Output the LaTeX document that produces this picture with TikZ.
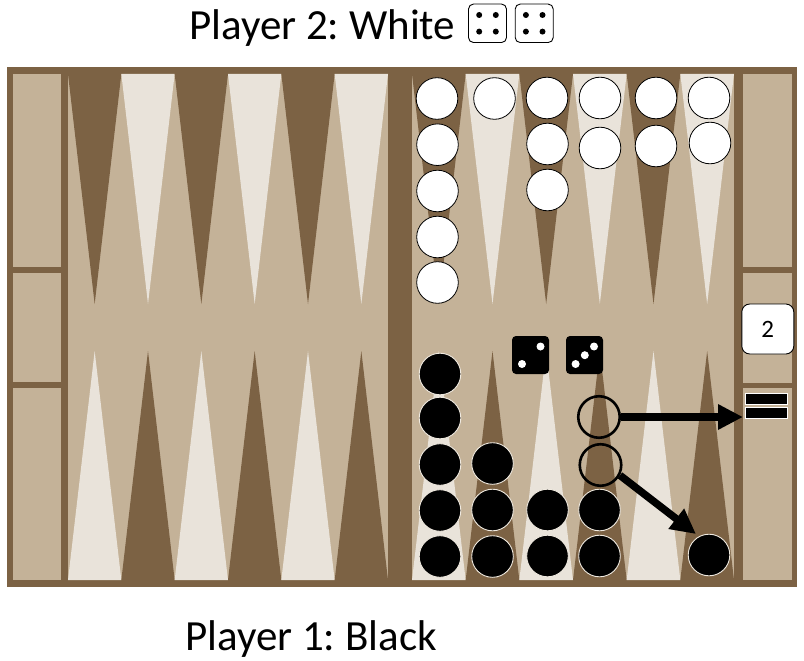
\documentclass[tikz,border=0pt]{standalone}
\usepackage{fontspec}
\setmainfont{Carlito}
\usetikzlibrary{arrows.meta}
\definecolor{frameB}{RGB}{124,98,68}
\definecolor{fieldB}{RGB}{196,178,152}
\definecolor{lightP}{RGB}{233,227,218}
\definecolor{rimC}{RGB}{240,234,224}
\frenchspacing
\begin{document}
\begin{tikzpicture}[x=1pt,y=-1pt,
  wchk/.style={circle,draw=black,line width=0.8pt,fill=white,minimum size=41.6pt,inner sep=0pt},
  bchk/.style={circle,draw=rimC,line width=0.9pt,fill=black,minimum size=41.6pt,inner sep=0pt},
  ghost/.style={circle,draw=black,line width=2.6pt,minimum size=41.5pt,inner sep=0pt},
  bdie/.style={fill=black,rounded corners=4pt,minimum width=37pt,minimum height=38pt,inner sep=0pt},
  wdie/.style={draw=black,fill=white,line width=0.9pt,rounded corners=5pt,minimum width=38pt,minimum height=38.5pt,inner sep=0pt},
  offbar/.style={fill=black,draw=white,line width=0.8pt,minimum width=42pt,minimum height=10.5pt,inner sep=0pt},
  mv/.style={line width=7.5pt,-{Triangle[length=25pt,width=24pt]}},
  title/.style={anchor=base west,inner sep=0pt,font=\fontsize{43}{50}\selectfont}
]
\useasboundingbox (0,0) rectangle (804,661);
% frame
\fill[frameB] (7,67) rectangle (797,587);
% left column
\fill[fieldB] (13,74) rectangle (61,267);
\fill[fieldB] (13,273) rectangle (61,382);
\fill[fieldB] (13,388) rectangle (61,580);
% right column
\fill[fieldB] (743,74) rectangle (792,267);
\fill[fieldB] (743,273) rectangle (792,383);
\fill[fieldB] (743,388) rectangle (792,580);
% fields
\fill[fieldB] (68,74) rectangle (388,580);
\fill[fieldB] (412,74) rectangle (734,580);
% points
\foreach \i in {0,...,5}{
  \pgfmathsetmacro{\xa}{68+\i*53.333}
  \pgfmathsetmacro{\xb}{412+\i*53.667}
  \ifodd\i
    \def\ctop{lightP}\def\cbot{frameB}
  \else
    \def\ctop{frameB}\def\cbot{lightP}
  \fi
  \fill[\ctop] (\xa,74) -- (\xa+53.333,74) -- (\xa+26.667,304) -- cycle;
  \fill[\cbot] (\xa,580) -- (\xa+53.333,580) -- (\xa+26.667,351) -- cycle;
  \fill[\ctop] (\xb,74) -- (\xb+53.667,74) -- (\xb+26.833,304) -- cycle;
  \fill[\cbot] (\xb,580) -- (\xb+53.667,580) -- (\xb+26.833,351) -- cycle;
}
% white checkers
\node[wchk] (w1a) at (437,98.5) {};
\node[wchk] (w1b) at (437.5,144.7) {};
\node[wchk] (w1c) at (437.5,191) {};
\node[wchk] (w1d) at (437.5,237) {};
\node[wchk] (w1e) at (437.5,282.5) {};
\node[wchk] (w2a) at (494.5,98.5) {};
\node[wchk] (w3a) at (547,98) {};
\node[wchk] (w3b) at (547.5,144) {};
\node[wchk] (w3c) at (547.5,190) {};
\node[wchk] (w4a) at (600,98) {};
\node[wchk] (w4b) at (600,148) {};
\node[wchk] (w5a) at (656,98) {};
\node[wchk] (w5b) at (656,146) {};
\node[wchk] (w6a) at (709,98) {};
\node[wchk] (w6b) at (710,143) {};
% black checkers
\node[bchk] (b1a) at (440,374) {};
\node[bchk] (b1b) at (440,418) {};
\node[bchk] (b1c) at (440,464.5) {};
\node[bchk] (b1d) at (440,510.5) {};
\node[bchk] (b1e) at (440,556.5) {};
\node[bchk] (b2a) at (492.5,463.5) {};
\node[bchk] (b2b) at (492.5,510) {};
\node[bchk] (b2c) at (492.5,556.5) {};
\node[bchk] (b3a) at (547.5,510) {};
\node[bchk] (b3b) at (547.5,556) {};
\node[bchk] (b4a) at (599.5,510) {};
\node[bchk] (b4b) at (599.5,556) {};
\node[bchk] (b6a) at (709,555) {};
% ghost checkers
\node[ghost] (g1) at (599,417) {};
\node[ghost] (g2) at (600.5,465) {};
% black dice
\node[bdie] (d1) at (530.5,355) {};
\fill[white] (540.5,346.5) circle (4pt) (522,364) circle (4pt);
\node[bdie] (d2) at (584.5,355) {};
\fill[white] (594,346.5) circle (4pt) (584.8,355.2) circle (4pt) (575.6,364) circle (4pt);
% doubling cube and borne-off
\node[draw=black,fill=white,rounded corners=8pt,line width=0.9pt,minimum width=52pt,minimum height=50pt,inner sep=0pt,font=\fontsize{25}{28}\selectfont] (cube) at (767.8,329) {2};
\node[offbar] (off1) at (766.5,399) {};
\node[offbar] (off2) at (766.5,413) {};
% moves
\coordinate (tipA) at (743,417);
\coordinate (tipB) at (696,534);
\draw[mv] (g1.east) -- (tipA);
\draw[mv] (g2.-28) -- (tipB);
% titles
\node[title] (p2) at (189,39.3) {Player 2: White};
\node[wdie] (t1) at (487.5,23.3) {};
\fill (479.2,15) circle (3pt) (495.8,15) circle (3pt) (479.2,31.6) circle (3pt) (495.8,31.6) circle (3pt);
\node[wdie] (t2) at (534.2,23.3) {};
\fill (525.9,15) circle (3pt) (542.5,15) circle (3pt) (525.9,31.6) circle (3pt) (542.5,31.6) circle (3pt);
\node[title] (p1) at (185,650) {Player 1: Black};
\end{tikzpicture}
\end{document}
